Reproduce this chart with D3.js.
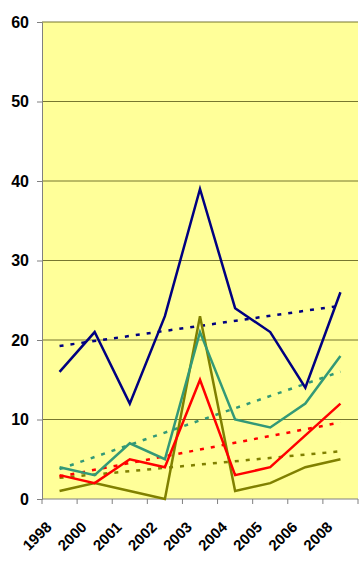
<!DOCTYPE html>
<html>
<head>
<meta charset="utf-8">
<script src="https://cdn.jsdelivr.net/npm/d3@7"></script>
<style>
  body { margin: 0; background: #fff; }
  svg text { font-family: "Liberation Sans", Arial, sans-serif; font-weight: bold; fill: #000; }
</style>
</head>
<body>
<div id="chart"></div>
<script>
var years = ["1998", "2000", "2001", "2002", "2003", "2004", "2005", "2006", "2008"];
var navySeries  = [16, 21, 12, 23, 39, 24, 21, 14, 26];
var tealSeries  = [4, 3, 7, 5, 21, 10, 9, 12, 18];
var redSeries   = [3, 2, 5, 4, 15, 3, 4, 8, 12];
var oliveSeries = [1, 2, 1, 0, 23, 1, 2, 4, 5];
var yTicks = [0, 10, 20, 30, 40, 50, 60];

var series = [
  { values: navySeries,  color: "#000080" },
  { values: tealSeries,  color: "#339977" },
  { values: redSeries,   color: "#ff0000" },
  { values: oliveSeries, color: "#808000" }
];

var width = 364, height = 565;
var plot = { left: 42, right: 358, top: 22, bottom: 499 };

var svg = d3.select("#chart").append("svg")
    .attr("width", width)
    .attr("height", height);

var x = d3.scaleBand().domain(years).range([plot.left, plot.right]);
var y = d3.scaleLinear().domain([0, 60]).range([plot.bottom, plot.top]);

// plot background
svg.append("rect")
    .attr("x", plot.left).attr("y", plot.top)
    .attr("width", plot.right - plot.left)
    .attr("height", plot.bottom - plot.top)
    .attr("fill", "#ffff99");

// gridlines
svg.append("g").selectAll("line")
    .data(yTicks.filter(function(d){ return d > 0; }))
  .enter().append("line")
    .attr("x1", plot.left).attr("x2", plot.right)
    .attr("y1", function(d){ return y(d); })
    .attr("y2", function(d){ return y(d); })
    .attr("stroke", "#77772f")
    .attr("stroke-width", 1);

// y axis
var yAxis = svg.append("g")
    .attr("transform", "translate(" + plot.left + ",0)")
    .call(d3.axisLeft(y).tickValues(yTicks).tickSize(5).tickPadding(8));
yAxis.select(".domain").attr("stroke", "#808080");
yAxis.selectAll(".tick line").attr("stroke", "#808080");
yAxis.selectAll(".tick text").style("font-size", "16px");

// x axis - ticks at band edges
var xAxisG = svg.append("g");
xAxisG.append("line")
    .attr("x1", plot.left).attr("x2", plot.right)
    .attr("y1", plot.bottom).attr("y2", plot.bottom)
    .attr("stroke", "#808080");
var edges = years.map(function(d){ return x(d); }).concat([plot.right]);
xAxisG.selectAll("line.tk")
    .data(edges)
  .enter().append("line")
    .attr("class", "tk")
    .attr("x1", function(d){ return d; }).attr("x2", function(d){ return d; })
    .attr("y1", plot.bottom).attr("y2", plot.bottom + 5)
    .attr("stroke", "#808080");
xAxisG.selectAll("text")
    .data(years)
  .enter().append("text")
    .attr("transform", function(d){
      return "translate(" + (x(d) + x.bandwidth() / 2 - 7) + "," + (plot.bottom + 29) + ") rotate(-45)";
    })
    .attr("text-anchor", "end")
    .style("font-size", "15px")
    .text(function(d){ return d; });

var cx = function(i){ return x(years[i]) + x.bandwidth() / 2; };

// linear trend of each series (least squares over category index)
function trend(values) {
  var n = values.length;
  var mx = d3.mean(values, function(d, i){ return i; });
  var my = d3.mean(values);
  var num = d3.sum(values, function(d, i){ return (i - mx) * (d - my); });
  var den = d3.sum(values, function(d, i){ return (i - mx) * (i - mx); });
  var slope = num / den;
  return [[0, my - slope * mx], [n - 1, my + slope * (n - 1 - mx)]];
}

var line = d3.line()
    .x(function(d, i){ return cx(i); })
    .y(function(d){ return y(d); });

var trendLine = d3.line()
    .x(function(d){ return cx(d[0]); })
    .y(function(d){ return y(d[1]); });

// trend lines drawn first, then series in reverse order so navy is on top
series.slice().reverse().forEach(function(s){
  svg.append("path")
      .datum(trend(s.values))
      .attr("d", trendLine)
      .attr("fill", "none")
      .attr("stroke", s.color)
      .attr("stroke-width", 2.5)
      .attr("stroke-dasharray", "4,7");
});

series.slice().reverse().forEach(function(s){
  svg.append("path")
      .datum(s.values)
      .attr("d", line)
      .attr("fill", "none")
      .attr("stroke", s.color)
      .attr("stroke-width", 2.5)
      .attr("stroke-linejoin", "miter");
});
</script>
</body>
</html>
